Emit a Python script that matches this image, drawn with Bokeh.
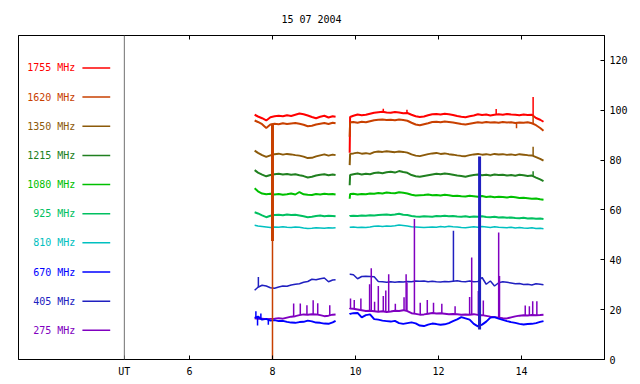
import numpy as np
from bokeh.plotting import figure
from bokeh.models import FixedTicker, LinearAxis, Span, ColumnDataSource
from bokeh.core.properties import value
from bokeh.embed import file_html
from bokeh.resources import INLINE

FONT = "DejaVu Sans Mono"

# ---------------- data ----------------
title_text = "15 07 2004"
freqs = ["1755", "1620", "1350", "1215", "1080", "925", "810", "670", "405", "275"]
colors = ["#ff0000", "#c84000", "#8c5a0a", "#208020", "#00c000",
          "#00c060", "#00c0c0", "#0000ff", "#2020c0", "#8000c0"]
x_ticks = [6, 8, 10, 12, 14]
y_ticks = [0, 20, 40, 60, 80, 100, 120]
ut_pos = 4.43

T1 = [7.57, 7.65, 7.75, 7.85, 7.95, 8.05, 8.15,
      8.25, 8.35, 8.45, 8.55, 8.65, 8.75, 8.85,
      8.95, 9.05, 9.15, 9.25, 9.35, 9.45, 9.52]
T2 = [9.86, 9.87, 9.95, 10.05, 10.15, 10.25, 10.35,
      10.45, 10.55, 10.65, 10.75, 10.85, 10.95, 11.05,
      11.15, 11.25, 11.35, 11.45, 11.55, 11.65, 11.75,
      11.85, 11.95, 12.05, 12.15, 12.25, 12.35, 12.45,
      12.55, 12.65, 12.75, 12.85, 12.95, 13.05, 13.15,
      13.25, 13.35, 13.45, 13.55, 13.65, 13.75, 13.85,
      13.95, 14.05, 14.15, 14.25, 14.35, 14.45, 14.53]

s1755_a = [98.2, 97.5, 96.8, 95.9, 97.2, 97.6, 97.8,
           97.6, 98.0, 97.7, 98.2, 98.7, 98.4, 97.9,
           97.3, 96.8, 97.4, 97.8, 97.1, 97.6, 97.4]
s1755_b = [83.0, 97.3, 97.8, 98.3, 98.0, 98.2, 98.6,
           99.0, 99.2, 99.4, 99.1, 99.0, 99.3, 99.1,
           98.8, 98.9, 98.2, 97.6, 97.3, 97.5, 98.0,
           98.4, 98.5, 98.3, 98.6, 98.4, 98.1, 97.7,
           97.4, 97.2, 97.6, 97.9, 98.4, 98.1, 98.3,
           97.9, 98.2, 98.4, 98.2, 98.5, 98.3, 98.2,
           98.0, 98.3, 98.1, 98.2, 96.9, 96.2, 95.4]

s1620_a = [95.9, 95.3, 94.4, 92.9, 94.3, 94.6, 94.4,
           94.8, 94.5, 94.7, 94.9, 94.6, 94.2, 93.6,
           93.8, 94.3, 94.6, 94.9, 94.5, 95.0, 94.8]
s1620_b = [89.4, 95.2, 95.3, 95.0, 95.4, 95.2, 95.6,
           96.0, 96.2, 96.3, 96.1, 96.2, 96.0, 96.3,
           96.1, 95.8, 95.0, 94.3, 94.0, 94.4, 94.8,
           95.3, 95.4, 95.2, 95.5, 95.3, 95.1, 94.8,
           94.5, 94.3, 94.6, 94.9, 95.2, 95.0, 95.3,
           95.1, 95.2, 95.0, 95.3, 95.1, 95.2, 94.9,
           95.1, 95.0, 95.2, 94.8, 94.0, 92.9, 91.8]

s1350_a = [83.8, 82.9, 82.0, 81.3, 81.9, 82.4, 82.6,
           82.2, 82.5, 82.3, 82.0, 81.8, 81.4, 80.8,
           80.9, 81.5, 81.9, 82.3, 81.8, 82.2, 82.0]
s1350_b = [78.0, 82.5, 82.7, 83.0, 82.6, 82.8, 82.5,
           83.2, 83.5, 83.3, 83.6, 83.4, 83.2, 83.5,
           83.3, 83.0, 82.3, 81.8, 81.6, 82.0, 82.4,
           82.7, 82.9, 82.5, 82.7, 82.4, 82.2, 81.9,
           81.7, 81.6, 82.0, 82.3, 82.5, 82.2, 82.4,
           82.1, 82.5, 82.3, 82.4, 82.1, 82.3, 82.0,
           82.4, 82.2, 82.0, 81.9, 81.2, 80.5, 79.8]

s1215_a = [76.0, 75.0, 74.2, 73.5, 74.0, 74.3, 74.5,
           74.2, 74.4, 74.1, 74.3, 73.9, 73.6, 73.0,
           73.3, 73.8, 74.1, 74.3, 73.9, 74.2, 74.0]
s1215_b = [69.9, 74.0, 74.3, 74.6, 74.2, 74.5, 74.3,
           74.8, 75.0, 74.7, 75.1, 75.3, 75.0, 75.6,
           75.2, 74.9, 74.0, 73.5, 73.3, 73.6, 73.9,
           74.2, 74.5, 74.3, 74.6, 74.4, 74.1, 73.8,
           73.6, 73.3, 73.7, 74.0, 74.2, 73.9, 74.1,
           73.8, 74.2, 74.0, 74.1, 73.8, 74.0, 73.7,
           74.1, 73.9, 73.6, 73.8, 73.0, 72.3, 71.6]

s1080_a = [68.7, 67.5, 66.6, 66.3, 66.5, 66.2, 66.4,
           66.1, 66.3, 66.6, 66.2, 67.2, 66.3, 66.1,
           66.0, 66.4, 66.2, 66.5, 66.3, 66.4, 66.2]
s1080_b = [64.5, 66.4, 66.5, 66.2, 66.4, 66.3, 66.6,
           66.5, 66.8, 66.6, 67.0, 66.8, 66.7, 67.1,
           66.9, 66.6, 66.1, 65.8, 65.9, 66.0, 66.2,
           65.9, 66.0, 65.8, 66.1, 65.9, 65.6, 65.7,
           65.5, 65.4, 65.7, 65.5, 65.3, 65.6, 65.2,
           65.4, 65.1, 65.3, 65.2, 65.0, 65.3, 65.1,
           64.8, 64.9, 64.7, 64.5, 64.6, 64.3, 64.1]

s925_a = [59.1, 58.6, 57.8, 57.1, 57.7, 58.0, 58.1,
          57.9, 58.2, 58.0, 58.1, 57.8, 57.5, 57.1,
          57.3, 57.6, 57.8, 57.5, 57.7, 57.6, 57.5]
s925_b = [57.4, 57.6, 57.7, 57.6, 57.8, 57.7, 57.9,
          57.8, 58.0, 58.1, 58.2, 58.0, 58.2, 58.5,
          58.1, 58.0, 57.6, 57.4, 57.3, 57.5, 57.4,
          57.3, 57.6, 57.5, 57.7, 57.5, 57.6, 57.4,
          57.3, 57.5, 57.2, 57.4, 57.3, 57.5, 57.2,
          57.1, 57.3, 57.0, 57.1, 56.9, 57.0, 56.8,
          56.7, 56.9, 56.6, 56.7, 56.5, 56.6, 56.4]

s810_a = [53.9, 53.6, 53.4, 53.2, 53.0, 53.2, 53.1,
          53.3, 53.1, 53.0, 53.2, 53.1, 52.8, 52.6,
          52.7, 52.9, 52.8, 52.7, 52.9, 52.8, 52.9]
s810_b = [53.1, 53.1, 53.2, 53.0, 53.1, 53.0, 53.2,
          53.5, 53.6, 53.4, 53.6, 53.5, 53.7, 54.0,
          53.8, 53.6, 53.3, 53.2, 53.1, 53.0, 53.1,
          53.2, 53.1, 53.4, 53.2, 53.5, 53.3, 53.2,
          53.0, 52.9, 53.1, 53.3, 53.1, 53.4, 53.2,
          53.0, 53.3, 53.1, 53.0, 52.9, 53.1, 52.8,
          53.0, 52.8, 52.7, 52.9, 52.6, 52.7, 52.5]

s670_a = [16.7, 17.2, 16.0, 16.3, 15.6, 15.8, 15.4,
          15.5, 15.1, 14.8, 14.7, 15.0, 15.1, 15.6,
          15.3, 14.8, 14.7, 14.4, 14.3, 14.9, 15.5]
s670_b = [18.1, 18.3, 18.6, 18.7, 16.9, 17.8, 18.1,
          16.2, 16.0, 15.6, 15.4, 15.2, 15.5, 14.6,
          14.3, 14.6, 14.9, 14.5, 13.6, 13.4, 14.0,
          14.4, 14.2, 13.9, 14.1, 14.6, 15.4, 16.1,
          17.0, 16.5, 16.0, 14.3, 13.3, 14.0, 15.2,
          16.8, 17.0, 16.4, 15.9, 15.4, 15.0, 14.7,
          14.3, 14.0, 14.2, 14.3, 14.6, 15.1, 15.4]

s405_a = [27.8, 29.0, 29.8, 29.5, 28.8, 28.6, 29.1,
          29.5, 29.4, 29.9, 30.2, 30.4, 31.0, 31.3,
          32.2, 32.0, 32.4, 32.7, 31.2, 31.9, 32.0]
s405_b = [34.2, 34.2, 34.0, 32.4, 33.3, 33.4, 33.3,
          33.2, 31.3, 31.2, 31.0, 31.2, 31.0, 31.2,
          31.1, 31.3, 31.2, 31.5, 31.4, 31.5, 31.2,
          31.4, 31.2, 31.1, 31.3, 31.2, 31.4, 31.6,
          31.3, 31.2, 31.5, 31.2, 31.3, 32.9, 30.2,
          31.5, 29.5, 30.8, 31.2, 31.0, 30.7, 30.4,
          30.5, 30.1, 30.2, 29.9, 30.4, 30.2, 30.0]

s275_a = [16.5, 16.3, 16.4, 16.2, 16.3, 16.4, 16.6,
          16.4, 16.8, 17.2, 17.4, 17.8, 18.1, 18.0,
          18.2, 18.1, 17.8, 17.4, 17.6, 18.0, 18.1]
s275_b = [20.7, 20.5, 20.4, 20.1, 19.8, 19.5, 19.6,
          19.4, 19.2, 19.4, 19.1, 19.3, 19.6, 19.5,
          19.8, 19.4, 18.6, 18.3, 18.0, 18.1, 18.4,
          18.7, 18.5, 18.6, 18.4, 18.2, 18.3, 18.2,
          18.0, 18.1, 18.0, 18.2, 17.9, 17.8, 17.5,
          17.2, 17.0, 16.8, 16.6, 16.5, 16.9, 17.3,
          17.6, 17.8, 17.7, 17.9, 17.8, 17.9, 18.0]

# short bursts: frequency, time, peak value
spike_freq = ["1755", "1755", "1755", "1755", "1620", "1620", "1350", "1215",
              "405", "405", "670", "670", "670", "670", "670"]
spike_t = [10.67, 11.24, 13.39, 14.28, 13.88, 14.28, 14.28, 14.28,
           7.66, 12.36, 7.60, 7.64, 7.72, 7.90, 12.97]
spike_top = [100.6, 100.2, 100.5, 105.3, 92.8, 98.0, 85.4, 75.5,
             33.1, 51.7, 19.4, 13.6, 18.5, 13.9, 27.5]

p275_t = [8.51, 8.67, 8.83, 8.98, 9.09, 9.38,
          9.88, 9.97, 10.13, 10.34, 10.38, 10.46, 10.55, 10.67, 10.73, 10.80,
          10.96, 11.17, 11.22, 11.24, 11.42, 11.56, 11.73, 11.88, 12.08, 12.40,
          12.75, 12.80, 12.96, 13.08, 13.45, 13.47, 14.09, 14.19, 14.27, 14.37]
p275_top = [22.5, 22.5, 21.8, 23.8, 22.6, 21.8,
            24.5, 23.9, 24.5, 30.2, 36.6, 23.2, 29.5, 25.5, 27.7, 34.2,
            22.4, 25.0, 34.2, 30.8, 56.4, 22.8, 23.9, 22.8, 22.4, 21.4,
            25.1, 40.9, 27.5, 23.7, 51.0, 33.5, 21.7, 21.4, 23.4, 23.4]

# dropouts / interference: frequency, time, low, high
burst_freq = ["1620", "1620", "405"]
burst_t = [8.0, 8.0, 12.99]
burst_lo = [47.5, 0.0, 12.0]
burst_hi = [94.6, 47.5, 81.5]

seg_a = {"1755": s1755_a, "1620": s1620_a, "1350": s1350_a, "1215": s1215_a,
         "1080": s1080_a, "925": s925_a, "810": s810_a, "670": s670_a,
         "405": s405_a, "275": s275_a}
seg_b = {"1755": s1755_b, "1620": s1620_b, "1350": s1350_b, "1215": s1215_b,
         "1080": s1080_b, "925": s925_b, "810": s810_b, "670": s670_b,
         "405": s405_b, "275": s275_b}
col = dict(zip(freqs, colors))

# ---------------- figure ----------------
p = figure(width=640, height=384, x_range=(1.88, 16.0), y_range=(0, 130),
           y_axis_location="right", output_backend="svg", toolbar_location=None,
           min_border_left=18, min_border_right=36, min_border_top=35,
           min_border_bottom=25)
p.grid.visible = False
p.outline_line_color = "black"
p.outline_line_width = 1
p.background_fill_color = "white"
p.border_fill_color = "white"

p.title.text = title_text
p.title.align = "center"
p.title.vertical_align = "top"
p.title.text_font = FONT
p.title.text_font_size = "10px"
p.title.text_font_style = "normal"
p.title.text_color = "black"
p.title.standoff = 18


def style_axis(ax):
    ax.axis_line_color = "black"
    ax.major_tick_line_color = "black"
    ax.major_tick_in = 4
    ax.major_tick_out = 0
    ax.minor_tick_line_color = None
    ax.major_label_text_font = FONT
    ax.major_label_text_font_size = "10px"
    ax.major_label_text_color = "black"


xb = p.xaxis[0]
xb.ticker = FixedTicker(ticks=[ut_pos] + x_ticks)
xb.major_label_overrides = {ut_pos: "UT"}
style_axis(xb)
xb.major_label_standoff = 6

yr = p.yaxis[0]
yr.ticker = FixedTicker(ticks=y_ticks)
style_axis(yr)
yr.major_label_standoff = 5

xt = LinearAxis(ticker=FixedTicker(ticks=x_ticks))
style_axis(xt)
xt.major_label_overrides = {t: "" for t in x_ticks}
xt.major_label_standoff = 0
p.add_layout(xt, "above")

p.add_layout(Span(location=ut_pos, dimension="height", line_color="#707070", line_width=1))

# legend (in-plot labels)
n = len(freqs)
leg_y = [11.7 * (n - i) for i in range(n)]
leg_src = ColumnDataSource(dict(
    x=[3.25] * n, x0=[3.42] * n, x1=[4.09] * n, y=leg_y,
    text=[f + " MHz" for f in freqs], color=colors))
p.text(x="x", y="y", text="text", text_color="color", source=leg_src,
       text_align="right", text_baseline="middle",
       text_font=value(FONT), text_font_size="10px")
p.segment(x0="x0", x1="x1", y0="y", y1="y", line_color="color",
          line_width=1.5, source=leg_src)

# series
order = ["1755", "1620", "1350", "1215", "1080", "925", "810", "405", "275", "670"]
for f in order:
    lw = 1.5 if f in ("405", "810") else 2
    p.line(T1, seg_a[f], line_color=col[f], line_width=lw)
    p.line(T2, seg_b[f], line_color=col[f], line_width=lw)


def base_of(f, t):
    if t < 9.7:
        return float(np.interp(t, T1, seg_a[f]))
    return float(np.interp(t, T2, seg_b[f]))


sp_x = spike_t + p275_t
sp_f = spike_freq + ["275"] * len(p275_t)
sp_top = spike_top + p275_top
sp_src = ColumnDataSource(dict(
    x=sp_x, y0=[base_of(f, t) for f, t in zip(sp_f, sp_x)], y1=sp_top,
    color=[col[f] for f in sp_f]))
p.segment(x0="x", x1="x", y0="y0", y1="y1", line_color="color",
          line_width=1.5, source=sp_src)

bw = [3 if lo > 0 else 1.5 for lo in burst_lo]
b_src = ColumnDataSource(dict(x=burst_t, y0=burst_lo, y1=burst_hi,
                              color=[col[f] for f in burst_freq], w=bw))
p.segment(x0="x", x1="x", y0="y0", y1="y1", line_color="color",
          line_width="w", source=b_src)

open("out.html", "w").write(file_html(p, INLINE))
